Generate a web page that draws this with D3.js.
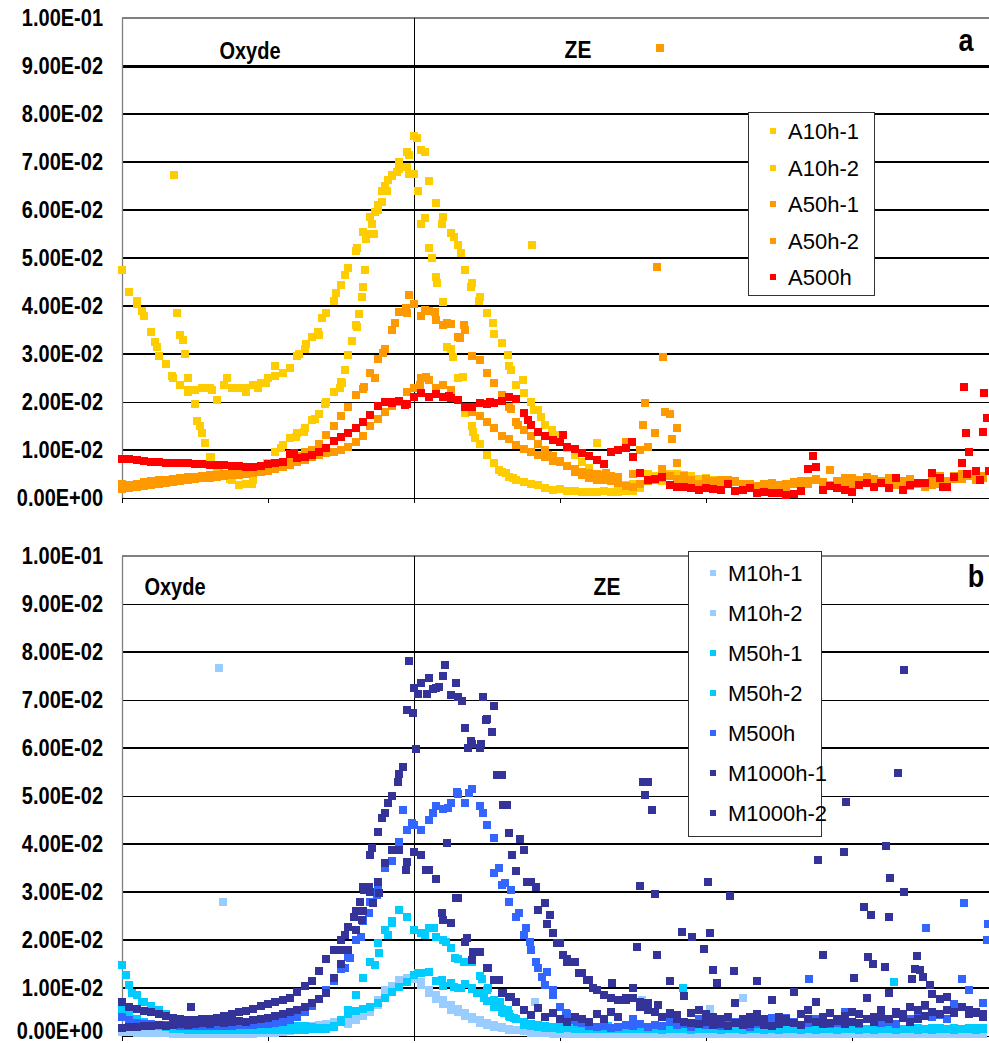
<!DOCTYPE html>
<html>
<head>
<meta charset="utf-8">
<script src="https://cdn.jsdelivr.net/npm/d3@7"></script>
<style>
  body { margin: 0; background: #fff; }
  svg text { font-family: "Liberation Sans", Arial, sans-serif; }
</style>
</head>
<body>
<svg id="chart" width="989" height="1043"></svg>
<script>
// depth positions: one measurement per micron, x = index * STEP
const STEP = 1;
// y values are in units of 1E-02

// ---- panel a ----
const A10h1 = [
  4.75,4.30,4.05,3.80,3.45,2.95,2.80,2.50,2.35,2.20,
  2.25,2.30,2.30,2.05,2.35,2.30,2.30,2.20,2.35,2.40,
  2.50,2.55,2.60,2.70,2.95,3.10,3.35,3.40,3.85,4.10,
  4.44,4.80,5.15,5.55,5.85,6.10,6.50,6.73,7.00,7.20,
  7.55,7.25,6.60,6.15,5.85,5.52,5.27,4.75,4.48,4.19,
  3.85,3.42,3.23,2.75,2.35,2.19,2.00,1.83,1.52,1.31,
  1.20,1.05,0.90,0.75,0.62,0.50,0.42,0.35,0.30,0.28,
  0.30,0.25,0.50,0.45,0.35,0.50,0.40,0.48,0.35,0.38,0.30
];
const A10h1Extra = [[7.1,6.73],[56.2,5.27],[65.1,1.15],[40.4,7.5],[39.3,7.15],[41.5,7.2],[37.7,6.8],[38.6,6.9],
  [2.1,4.1],[2.7,3.9],[4.5,3.25],[4.8,3.15],[6.8,2.55],[9.0,2.25],[12.3,2.25],[14.4,2.5],[16.8,2.3],[18.6,2.3],
  [19.7,2.4],[20.9,2.75],[24.3,3.0],[25.2,3.2],[26.8,3.45],[27.4,3.75],[29.3,4.27],[30.6,4.65],[32.2,5.2],[33.4,5.4],
  [34.6,5.96],[35.6,6.4],[36.5,6.63],[43.8,5.7],[45.5,5.44],[46.5,5.1],[47.8,4.4],[48.9,4.1],[50.8,3.65],[52.9,2.98],
  [53.3,2.67],[54.9,2.46],[56.4,1.83],[57.4,1.69],[58.9,1.42],[59.4,1.31]];

const A10h2 = [
  null,null,null,null,null,null,null,null,3.40,2.50,
  1.95,1.35,0.85,0.55,0.45,0.38,0.27,0.30,0.38,0.55,
  0.72,0.95,1.10,1.25,1.35,1.45,1.62,1.75,2.00,2.20,
  2.42,2.98,3.60,4.40,5.50,6.00,6.40,6.70,6.85,6.90,
  6.75,5.70,5.20,4.60,4.08,3.10,2.50,1.77,1.50,1.12,
  0.90,0.72,0.55,0.44,0.38,0.33,0.30,0.27,0.20,0.17,
  0.18,0.15,0.15,0.12,0.13,0.12,0.14,0.12,0.12,0.14,
  0.15,0.20,0.35,0.40,0.55,0.45,0.50,0.42,0.45,0.40,
  0.42,0.38,0.30
];
const A10h2Extra = [[7.5,3.85],[8.4,3.3],[8.6,3.0],[10.3,1.6],[10.7,1.5],[11.4,1.15],[12.2,0.85],[13.3,0.6],[14.8,0.4],
  [17.8,0.3],[19.9,0.72],[21.8,1.05],[23.8,1.27],[24.9,1.38],[26.4,1.65],[27.8,1.95],[29.8,2.3],[30.1,2.4],[30.6,2.67],
  [31.5,3.27],[32.2,3.56],[32.4,3.83],[32.9,4.19],[33.3,4.75],[34.2,5.7],[34.5,5.5],[35.6,6.17],[36.3,6.4],[39.3,6.75],
  [40.5,6.4],[41.5,5.83],[42.1,5.2],[42.5,5.0],[43.2,4.48],[44.5,3.15],[45.3,2.94],[46.7,2.52],[48.1,1.38],[48.3,1.25],
  [51.6,0.58],[52.6,0.52],[53.6,0.42]];

const A50h1 = [
  0.30,0.28,0.30,0.34,0.36,0.38,0.38,0.40,0.42,0.43,
  0.44,0.46,0.47,0.48,0.50,0.52,0.53,0.55,0.57,0.60,
  0.64,0.68,0.72,0.80,0.88,0.95,1.00,1.12,1.32,1.50,
  1.70,1.90,2.15,2.27,2.60,2.90,3.10,3.50,3.88,3.85,
  4.05,3.80,3.90,3.70,3.60,3.62,3.35,3.50,2.96,2.88,
  2.60,2.40,2.15,1.90,1.58,1.42,1.30,1.12,1.00,0.88,
  0.78,0.67,0.55,0.48,0.42,0.38,0.37,0.35,0.32,0.25,
  0.23,0.30,0.35,0.38,0.42,0.45,0.40,0.35,0.38,0.30,
  0.32,0.36,0.38,0.30,0.35,0.30,0.28,0.25,0.30,0.24,
  0.28,0.30,0.33,0.28,0.35,0.38,0.30,0.58,0.35,0.30,
  0.42,0.38,0.44,0.40,0.35,0.42,0.38,0.30,0.25,0.30,
  0.22,0.28,0.30,0.35,0.45,0.40,0.50,0.38,0.45
];
const A50h1Extra = [[39.3,4.23],[38.9,3.96],[41.5,3.92],[42.9,3.88],[44.5,3.65],[46.8,3.6],[46.3,3.33],[37.4,3.65],
  [35.7,3.02],[33.2,2.31],[34.6,2.5],[53.3,1.85],[54.3,1.52]];

const A50h2 = [
  0.18,0.20,0.22,0.25,0.28,0.30,0.32,0.34,0.36,0.38,
  0.40,0.41,0.42,0.44,0.45,0.47,0.48,0.50,0.52,0.54,
  0.56,0.60,0.64,0.68,0.74,0.80,0.86,0.90,0.93,0.96,
  1.00,1.06,1.17,1.30,1.50,1.65,1.79,1.92,2.00,2.20,
  2.30,2.50,2.45,2.30,2.35,2.25,2.05,1.90,1.80,1.70,
  1.58,1.45,1.30,1.22,1.10,1.03,0.96,0.90,0.85,0.78,
  0.74,0.67,0.60,0.55,0.52,0.50,0.48,0.46,0.44,1.17,
  0.50,1.00,1.06,1.35,0.60,1.75,0.73,0.45,0.35,0.30,
  0.40,0.35,0.30,0.38,0.33,0.28,0.30,0.25,0.30,0.32,
  0.28,0.22,0.30,0.35,0.30,0.40,0.33,0.28,0.36,0.42,
  0.30,0.28,0.35,0.40,0.33,0.30,0.28,0.35,0.40,0.32,
  0.30,0.38,0.45,0.35,0.40,0.50,0.45,0.55,0.42
];
const A50h2Extra = [[71.6,1.98],[71.4,1.52],[74.1,2.94],[74.4,1.79],[75.3,1.23],[76,1.46],[73.3,4.81],[73.7,9.37],
  [66.3,0.52],[58.4,0.9],[41.7,2.52],[40.8,2.35]];

const A500h = [
  0.81,0.82,0.80,0.77,0.75,0.74,0.73,0.73,0.72,0.72,
  0.71,0.70,0.69,0.68,0.68,0.67,0.66,0.65,0.65,0.66,
  0.70,0.73,0.76,0.92,0.84,0.86,0.90,0.96,1.04,1.18,
  1.28,1.36,1.45,1.58,1.72,1.92,1.99,1.97,2.02,1.95,
  2.10,2.18,2.10,2.16,2.10,2.09,2.05,1.90,1.90,1.98,
  1.95,1.98,2.02,2.10,2.06,1.77,1.52,1.38,1.30,1.20,
  1.17,1.06,1.03,0.94,0.88,0.80,0.70,0.96,1.00,1.04,
  0.85,0.52,0.38,0.40,0.44,0.27,0.23,0.22,0.20,0.17,
  0.21,0.18,0.17,0.30,0.15,0.17,0.21,0.10,0.12,0.11,
  0.10,0.07,0.09,0.15,0.60,0.65,0.17,0.25,0.20,0.17,
  0.12,0.27,0.31,0.23,0.31,0.20,0.42,0.17,0.27,0.31,
  0.31,0.52,0.42,0.23,0.44,0.73,0.96,0.56,1.38
];
const A500hExtra = [[94.6,0.88],[115.3,2.31],[115.6,1.35],[118.1,2.19],[118.5,1.67],[118.8,0.56],[60.4,1.31],
  [69.9,1.17],[23.5,0.94],[36.8,2.0],[38.8,1.94],[44.8,2.12],[50.4,2.0],[55.6,1.63],[115.8,0.5],[112.5,0.23],[117.5,0.38]];

// ---- panel b ----
const M10h1 = [
  0.15,0.12,0.12,0.10,0.10,0.10,0.08,0.08,0.07,0.07,
  0.06,0.06,0.05,0.05,0.05,0.05,0.05,0.06,0.06,0.06,
  0.07,0.08,0.10,0.12,0.14,0.17,0.20,0.23,0.25,0.27,
  0.30,0.25,0.33,0.42,0.50,0.65,0.85,1.00,1.17,1.20,
  1.18,1.06,0.90,0.78,0.66,0.55,0.50,0.42,0.35,0.28,
  0.22,0.19,0.16,0.13,0.12,0.10,0.07,0.06,0.06,0.05,
  0.05,0.05,0.04,0.05,0.04,0.05,0.05,0.04,0.05,0.05,
  0.04,0.05,0.05,0.04,0.05,0.06,0.05,0.04,0.05,0.05,
  0.04,0.05,0.05,0.04,0.05,0.04,0.05,0.05,0.04,0.05,
  0.05,0.04,0.05,0.05,0.04,0.05,0.04,0.05,0.05,0.04,
  0.05,0.05,0.04,0.05,0.04,0.05,0.05,0.04,0.05,0.05,
  0.04,0.05,0.05,0.04,0.05,0.05,0.04,0.05,0.05
];
const M10h1Extra = [];

const M10h2 = [
  0.08,0.08,0.07,0.07,0.06,0.06,0.06,0.05,0.05,0.05,
  0.05,0.05,0.05,0.05,0.05,0.05,0.05,0.05,0.05,0.06,
  0.06,0.07,0.08,0.10,0.12,0.15,0.18,0.22,0.26,0.30,
  0.33,0.38,0.45,0.50,0.60,0.75,0.96,1.05,1.15,1.20,
  1.20,1.12,0.96,0.85,0.75,0.65,0.56,0.48,0.40,0.33,
  0.27,0.22,0.18,0.15,0.13,0.11,0.10,0.08,0.07,0.06,
  0.06,0.05,0.05,0.05,0.05,0.06,0.05,0.05,0.06,0.05,
  0.06,0.05,0.05,0.06,0.05,0.05,0.06,0.05,0.05,0.06,
  0.05,0.06,0.05,0.05,0.06,0.05,0.05,0.06,0.05,0.05,
  0.06,0.05,0.05,0.06,0.05,0.05,0.06,0.05,0.05,0.06,
  0.05,0.05,0.06,0.05,0.05,0.06,0.05,0.05,0.06,0.05,
  0.05,0.06,0.05,0.05,0.06,0.05,0.05,0.06,0.05
];
const M10h2Extra = [[13.3,7.67],[13.8,2.79],[56.6,0.71],[71.2,0.75],[85.1,0.79],[80.5,0.56],[81.3,0.2],[90,0.15]];

const M50h1 = [
  1.48,1.06,0.85,0.70,0.63,0.55,0.45,0.38,0.32,0.28,
  0.25,0.22,0.20,0.19,0.18,0.17,0.17,0.17,0.18,0.18,
  0.18,0.19,0.20,0.20,0.20,0.20,0.18,0.17,0.17,0.19,
  0.33,0.55,0.85,1.20,1.55,1.94,2.20,2.40,2.62,2.48,
  2.21,2.15,2.25,2.06,2.00,1.83,1.60,1.54,1.55,1.25,
  0.95,0.75,0.57,0.45,0.35,0.23,0.20,0.18,0.17,0.16,
  0.15,0.16,0.15,0.14,0.15,0.16,0.15,0.14,0.15,0.14,
  0.15,0.16,0.14,0.15,0.13,0.14,0.15,0.14,0.13,0.14,
  0.15,0.14,0.13,0.14,0.15,0.13,0.14,0.15,0.13,0.14,
  0.13,0.14,0.15,0.13,0.14,0.13,0.15,0.14,0.13,0.14,
  0.15,0.13,0.14,0.13,0.15,0.14,0.13,0.14,0.15,0.13,
  0.14,0.13,0.15,0.14,0.13,0.14,0.15,0.13,0.14
];
const M50h1Extra = [[0.6,1.27],[1.4,0.9],[2.7,0.71],[4.8,0.54],[34.6,1.48],[35.2,1.73],[36.4,2.1],[37.0,2.35],
  [39.0,2.48],[41.5,2.1],[42.8,2.25],[44.4,1.96],[45.6,1.63],[46.9,1.54],[49.3,1.19],[50.1,1.0],[51.8,0.71],
  [52.9,0.54],[53.7,0.38],[76.8,1.0],[105.8,1.13],[79.5,0.35]];

const M50h2 = [
  0.54,0.44,0.35,0.30,0.25,0.20,0.18,0.15,0.14,0.13,
  0.12,0.12,0.12,0.12,0.12,0.12,0.12,0.12,0.12,0.12,
  0.12,0.13,0.13,0.13,0.13,0.13,0.14,0.14,0.15,0.20,
  0.30,0.45,0.52,0.56,0.60,0.69,0.79,0.92,1.02,1.13,
  1.27,1.31,1.33,1.15,1.05,1.10,1.00,1.08,1.00,0.90,
  0.72,0.60,0.50,0.42,0.35,0.30,0.25,0.22,0.20,0.18,
  0.18,0.17,0.16,0.17,0.16,0.15,0.16,0.17,0.15,0.16,
  0.16,0.15,0.17,0.16,0.15,0.16,0.15,0.17,0.16,0.15,
  0.16,0.15,0.16,0.17,0.15,0.16,0.15,0.16,0.17,0.15,
  0.16,0.15,0.17,0.16,0.15,0.16,0.17,0.15,0.16,0.15,
  0.16,0.17,0.15,0.16,0.15,0.17,0.16,0.15,0.16,0.17,
  0.15,0.16,0.17,0.15,0.16,0.15,0.16,0.17,0.16
];
const M50h2Extra = [[40.6,1.31],[43.8,1.17],[45.5,1.02],[46.4,1.0],[47.9,0.98],[48.6,0.9],[49.6,0.79],[50.9,0.69],
  [52.3,0.48],[53.1,0.4],[66.6,0.21],[94,0.3],[101,0.25]];

const M500h = [
  0.40,0.33,0.28,0.26,0.24,0.23,0.22,0.22,0.21,0.21,
  0.20,0.20,0.20,0.20,0.21,0.21,0.22,0.22,0.23,0.24,
  0.25,0.27,0.30,0.34,0.40,0.50,0.62,0.78,0.95,1.15,
  1.40,1.65,2.00,2.40,2.80,3.10,3.50,3.65,4.05,4.30,
  4.40,4.30,4.50,4.80,4.72,4.85,5.05,4.85,5.15,4.80,
  4.40,3.40,3.15,2.80,2.48,2.10,1.79,1.42,1.06,0.85,
  0.60,0.45,0.33,0.27,0.20,0.18,0.20,0.17,0.18,0.22,
  0.20,0.25,0.18,0.22,0.20,0.30,0.22,0.25,0.18,0.35,
  0.22,0.28,0.20,0.25,0.30,0.22,0.18,0.25,0.30,0.38,
  0.25,0.38,0.30,0.22,0.28,0.35,0.30,0.25,0.28,0.50,
  0.30,0.25,0.35,0.35,0.28,0.30,0.25,0.40,0.35,0.45,
  0.63,0.40,0.44,0.35,0.67,1.19,0.96,0.50,0.69
];
const M500hExtra = [[94.1,1.19],[110.1,2.25],[115.3,2.77],[118.6,2.33],[118.5,2.0],[58.2,1.33],[38.5,4.7],
  [36.0,3.56],[34.9,2.94],[33.9,2.56],[32.8,2.06],[31.3,1.63],[30.5,1.42],[39.7,4.44],[42.6,4.65],[44.6,4.75],
  [45.9,5.08],[47.6,5.06],[49.5,4.65],[50.9,4.13],[51.7,3.5],[52.5,3.19],[53.3,3.04],[54.4,2.56],[55.3,2.25],
  [55.9,1.96],[56.7,1.54],[57.5,1.23],[59.1,0.96],[60.8,0.48],[62.3,0.29],[70,0.35],[75.5,0.4],[99,0.5]];

const M1000h1 = [
  0.71,0.60,0.56,0.53,0.50,0.45,0.42,0.38,0.35,0.33,
  0.33,0.35,0.36,0.38,0.42,0.46,0.50,0.52,0.56,0.62,
  0.66,0.70,0.74,0.80,0.92,1.05,1.15,1.35,1.60,1.80,
  2.00,2.27,2.60,3.10,3.77,4.25,4.65,5.00,5.45,6.80,
  7.25,7.35,7.46,7.25,7.50,7.10,7.06,6.42,6.08,6.00,
  6.60,6.88,5.44,4.23,3.43,3.88,3.20,2.63,2.77,2.15,
  1.94,1.60,1.54,1.31,1.17,0.95,0.85,0.79,0.75,0.80,
  1.00,0.70,0.55,0.50,0.40,0.45,0.35,0.30,0.28,0.25,
  0.30,0.22,0.25,0.20,0.28,0.22,0.25,0.30,0.22,0.20,
  0.25,0.30,0.28,0.22,0.35,0.30,0.25,0.28,0.32,0.25,
  0.30,0.28,0.35,0.30,0.40,0.35,0.45,0.38,0.30,0.35,
  0.42,0.50,0.45,0.55,0.48,0.60,0.45,0.50,0.40
];
const M1000h1Extra = [[39.3,7.81],[44.2,7.73],[49.5,7.06],[49.9,6.58],[50.7,6.33],[51.4,5.44],[52.2,4.81],[52.7,4.81],
  [53.4,3.77],[54.5,4.1],[55.5,3.21],[56.7,3.1],[58.6,2.52],[58.2,2.33],[60.4,1.69],[39.8,6.73],[40.3,5.98],[38.5,5.6],
  [37.8,5.29],[46.6,6.98],[45.8,7.35],[47.4,6.0],[49.2,6.08],[47.8,6.15],[42.6,7.23],[43.4,7.27],[41.8,7.13],[40.6,7.13],
  [67.1,1.1],[63.7,1.17],[64.5,1.0],[36.4,4.85],[35.6,4.54],[34.2,3.92],[33.8,3.1],[32.6,2.79],[31.8,2.48],[30.6,2.1],
  [29.8,1.79],[33.2,3.04],[61.8,1.54],[62.6,1.31],[59.6,1.94],[60.9,1.54]];

const M1000h2 = [
  0.17,0.18,0.18,0.20,0.20,0.22,0.20,0.22,0.24,0.22,
  0.25,0.28,0.26,0.30,0.28,0.30,0.32,0.30,0.34,0.36,
  0.38,0.42,0.45,0.50,0.55,0.60,0.68,0.78,0.90,1.20,
  1.50,1.80,2.20,2.60,3.00,3.20,3.60,3.88,3.88,3.63,
  3.83,3.77,3.46,3.27,2.42,2.35,2.88,1.96,1.58,1.75,
  1.42,1.17,0.90,0.81,0.71,0.54,0.44,0.58,0.40,0.48,
  0.35,0.30,0.40,0.35,0.30,0.45,0.35,0.50,0.40,0.75,
  0.80,0.60,0.69,0.50,0.40,0.48,0.44,0.83,0.48,0.55,
  0.45,0.40,0.35,0.40,0.69,0.35,0.40,0.45,0.35,0.75,
  0.40,0.35,0.92,0.45,0.54,0.71,0.40,0.48,0.35,0.42,
  0.50,0.45,0.79,0.40,0.55,0.90,0.50,0.45,0.60,0.55,
  0.65,0.88,0.77,0.81,0.50,0.60,0.55,0.48,0.45
];
const M1000h2Extra = [[99.2,4.88],[98.9,3.83],[95.3,3.67],[104.7,3.96],[105.2,3.29],[107.1,3.0],[80.3,3.21],[83.3,2.92],
  [101.6,2.69],[102.6,2.52],[105.1,2.48],[76.7,2.17],[78.1,2.06],[80.5,2.15],[79.7,1.81],[96,1.69],[102.2,1.65],
  [102.9,1.5],[104.5,1.44],[108.9,1.67],[108.6,1.4],[109.3,1.38],[109.7,1.23],[108.2,1.19],[81,1.38],[83.8,1.35],
  [75.1,1.15],[81.5,1.1],[87,1.15],[100.3,1.21],[110.7,1.06],[107.1,7.63],[106.3,5.48],[71.4,5.29],[72.1,5.29],
  [71.6,5.02],[72.6,4.71],[70.9,3.13],[73,2.96],[70.5,1.85],[73.3,1.69],[73.4,0.65],[35.2,2.98],[34.4,2.77],
  [32.9,2.42],[38.9,3.46],[41.6,3.46],[43.9,2.56],[45.8,2.88],[44.5,4.02],[47.2,2.04],[48.1,1.75],[50.1,1.42],
  [51.6,1.17],[52.2,0.9],[53.3,0.81],[9.5,0.6]];

const yTicks = [0,1,2,3,4,5,6,7,8,9,10];
const xTicks = [0,20,40,60,80,100,120];
const interfaceDepth = 40;

// ---- layout ----
const svg = d3.select("#chart");
const left = 122, rightEnd = 989;
const x = d3.scaleLinear().domain([0, 120]).range([left, 998]);

function sci(v) {
  const n = v / 100;
  if (n === 0) return "0.00E+00";
  const e = Math.floor(Math.log10(n) + 1e-9);
  const m = n / Math.pow(10, e);
  return m.toFixed(2) + "E" + (e < 0 ? "-" : "+") + String(Math.abs(e)).padStart(2, "0");
}

function toPoints(vals, extra) {
  const pts = [];
  vals.forEach((v, i) => { if (v != null) pts.push([i * STEP, v]); });
  return pts.concat(extra);
}

function drawPanel(p) {
  const y = d3.scaleLinear().domain([0, 10]).range([p.bottom, p.top]);
  const g = svg.append("g");

  // gridlines
  g.selectAll(".grid")
    .data(yTicks.filter(d => d > 0 && d < 10))
    .enter().append("line")
    .attr("x1", left).attr("x2", rightEnd)
    .attr("y1", d => y(d)).attr("y2", d => y(d))
    .attr("stroke", "#000")
    .attr("stroke-width", d => p.gridW[d - 1])
    .attr("shape-rendering", "crispEdges");

  // top border
  g.append("line")
    .attr("x1", left).attr("x2", rightEnd)
    .attr("y1", y(10)).attr("y2", y(10))
    .attr("stroke", "#808080").attr("stroke-width", 1.5)
    .attr("shape-rendering", "crispEdges");

  // y axis
  const yAxis = g.append("g")
    .attr("transform", `translate(${left},0)`)
    .call(d3.axisLeft(y).tickValues(yTicks).tickSize(0).tickPadding(19).tickFormat(sci));
  yAxis.select(".domain").attr("stroke", "#808080").attr("stroke-width", 1.3);
  yAxis.selectAll("text")
    .attr("font-size", 20).attr("font-weight", "bold").attr("fill", "#000")
    .attr("font-family", "'Liberation Sans', Arial, sans-serif")
    .attr("transform", "scale(1,1.15)")
    .attr("dy", d => d === 0 && p.bottom > 1000 ? "0.1em" : "0.32em");

  // x axis (ticks only)
  const xAxis = g.append("g")
    .attr("transform", `translate(0,${p.bottom})`)
    .call(d3.axisBottom(x).tickValues(xTicks).tickSize(5).tickFormat(""));
  xAxis.select(".domain").attr("stroke", "#000").attr("shape-rendering", "crispEdges");
  xAxis.selectAll(".tick line").attr("stroke", "#000").attr("shape-rendering", "crispEdges");

  // boundary oxide / ZE
  g.append("line")
    .attr("x1", x(interfaceDepth)).attr("x2", x(interfaceDepth))
    .attr("y1", y(10)).attr("y2", y(0))
    .attr("stroke", "#000").attr("stroke-width", 1)
    .attr("shape-rendering", "crispEdges");

  // zone labels
  p.labels.forEach(l => {
    g.append("text")
      .attr("transform", `translate(${l.x},${l.y}) scale(1,1.15)`)
      .attr("text-anchor", "middle")
      .attr("font-size", l.size).attr("font-weight", "bold")
      .text(l.text);
  });

  // series
  const size = 8;
  p.series.forEach(s => {
    g.append("g").selectAll("rect")
      .data(toPoints(s.values, s.extra))
      .enter().append("rect")
      .attr("x", d => x(d[0]) - size / 2)
      .attr("y", d => y(d[1]) - size / 2)
      .attr("width", size).attr("height", size)
      .attr("fill", s.color)
      .attr("shape-rendering", "crispEdges");
  });

  // legend
  const L = p.legend;
  const lg = g.append("g");
  lg.append("rect")
    .attr("x", L.x).attr("y", L.y).attr("width", L.w).attr("height", L.h)
    .attr("fill", "#fff").attr("stroke", "#333").attr("stroke-width", 1)
    .attr("shape-rendering", "crispEdges");
  p.series.forEach((s, i) => {
    const cy = L.first + i * L.step;
    lg.append("rect")
      .attr("x", L.x + 22).attr("y", cy - 3)
      .attr("width", 6).attr("height", 6)
      .attr("fill", s.color).attr("shape-rendering", "crispEdges");
    lg.append("text")
      .attr("x", L.x + 40).attr("y", cy + 8)
      .attr("font-size", 22)
      .text(s.name);
  });
}

drawPanel({
  top: 18, bottom: 498,
  gridW: [2, 1, 2, 2, 2, 2, 2, 2, 3],
  labels: [
    {text: "Oxyde", x: 250, y: 59, size: 20},
    {text: "ZE", x: 578, y: 58, size: 21},
    {text: "a", x: 966, y: 51, size: 27}
  ],
  series: [
    {name: "A10h-1", color: "#FFCC00", values: A10h1, extra: A10h1Extra},
    {name: "A10h-2", color: "#FFCC00", values: A10h2, extra: A10h2Extra},
    {name: "A50h-1", color: "#FF9900", values: A50h1, extra: A50h1Extra},
    {name: "A50h-2", color: "#FF9900", values: A50h2, extra: A50h2Extra},
    {name: "A500h", color: "#FF0000", values: A500h, extra: A500hExtra}
  ],
  legend: {x: 748, y: 112, w: 126, h: 183, first: 131, step: 36.5}
});

drawPanel({
  top: 556, bottom: 1036,
  gridW: [2, 2, 2, 2, 1, 2, 1, 2, 1],
  labels: [
    {text: "Oxyde", x: 175, y: 595, size: 20},
    {text: "ZE", x: 607, y: 595, size: 21},
    {text: "b", x: 976, y: 587, size: 27}
  ],
  series: [
    {name: "M10h-1", color: "#99CCFF", values: M10h1, extra: M10h1Extra},
    {name: "M10h-2", color: "#99CCFF", values: M10h2, extra: M10h2Extra},
    {name: "M50h-1", color: "#00CCFF", values: M50h1, extra: M50h1Extra},
    {name: "M50h-2", color: "#00CCFF", values: M50h2, extra: M50h2Extra},
    {name: "M500h", color: "#3366FF", values: M500h, extra: M500hExtra},
    {name: "M1000h-1", color: "#333399", values: M1000h1, extra: M1000h1Extra},
    {name: "M1000h-2", color: "#333399", values: M1000h2, extra: M1000h2Extra}
  ],
  legend: {x: 688, y: 551, w: 133, h: 285, first: 573, step: 40}
});
</script>
</body>
</html>
